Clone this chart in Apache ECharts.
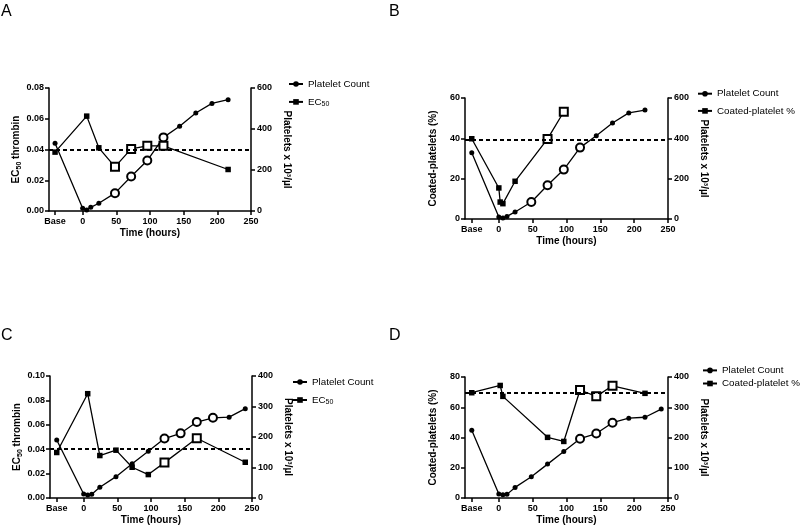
<!DOCTYPE html>
<html><head><meta charset="utf-8">
<script src="https://cdn.jsdelivr.net/npm/echarts@6/dist/echarts.min.js"></script>
<style>html,body{margin:0;padding:0;background:#fff}#c{width:800px;height:526px}</style>
</head><body><div id="c"></div>
<script>
// ---------- data ----------
const xTicks = [0, 50, 100, 150, 200, 250];
const panelLetters = ['A', 'B', 'C', 'D'];

// Panel A
const aBaseX = -41;
const aPlateletHours = ['Base', 0, 6, 12, 24, 48, 72, 96, 120, 144, 168, 192, 216];
const aPlateletCount = [331, 13, 5, 18, 38, 87, 168, 246, 359, 413, 478, 525, 543];
const aPlateletOpen = [48, 72, 96, 120];
const aEC50Hours = ['Base', 6, 24, 48, 72, 96, 120, 216];
const aEC50 = [0.0383, 0.0617, 0.0411, 0.0287, 0.0404, 0.0424, 0.0424, 0.027];
const aEC50Open = [48, 72, 96, 120];
const aEC50Ref = 0.0387;

// Panel B
const bBaseX = -40;
const bPlateletHours = ['Base', 0, 6, 12, 24, 48, 72, 96, 120, 144, 168, 192, 216];
const bPlateletCount = [329, 10, 5, 13, 35, 84, 167, 245, 354, 413, 476, 526, 540];
const bPlateletOpen = [48, 72, 96, 120];
const bCoatedHours = ['Base', 0, 2, 6, 24, 72, 96];
const bCoated = [39.8, 15.4, 8.4, 7.6, 18.7, 39.7, 53.2];
const bCoatedOpen = [72, 96];
const bCoatedRef = 39.5;

// Panel C
const cBaseX = -40;
const cPlateletHours = ['Base', 0, 6, 12, 24, 48, 72, 96, 120, 144, 168, 192, 216, 240];
const cPlateletCount = [190, 13, 10, 12, 35, 70, 112, 153, 195, 212, 249, 263, 265, 293];
const cPlateletOpen = [120, 144, 168, 192];
const cEC50Hours = ['Base', 6, 24, 48, 72, 96, 120, 168, 240];
const cEC50 = [0.0373, 0.0855, 0.0348, 0.0392, 0.0252, 0.0192, 0.029, 0.049, 0.0293];
const cEC50Open = [120, 168];
const cEC50Ref = 0.0367;

// Panel D
const dBaseX = -40;
const dPlateletHours = ['Base', 0, 6, 12, 24, 48, 72, 96, 120, 144, 168, 192, 216, 240];
const dPlateletCount = [224, 13, 11, 12, 35, 70, 112, 154, 196, 213, 249, 264, 267, 294];
const dPlateletOpen = [120, 144, 168];
const dCoatedHours = ['Base', 2, 6, 72, 96, 120, 144, 168, 216];
const dCoated = [69.6, 74.4, 67.2, 40.1, 37.4, 71.4, 67.2, 74.2, 69.2];
const dCoatedOpen = [120, 144, 168];
const dCoatedRef = 69.6;

// ---------- build ----------
const FONT = 'Liberation Sans, Arial, Helvetica, sans-serif';
const panels = [
  { grid: { left: 49, top: 88, width: 202, height: 123 }, baseX: aBaseX,
    pH: aPlateletHours, pV: aPlateletCount, pO: aPlateletOpen,
    sName: 'EC50', sH: aEC50Hours, sV: aEC50, sO: aEC50Open, ref: aEC50Ref,
    lMax: 0.08, lInt: 0.02, rMax: 600, rInt: 200, ec: true,
    legend: { left: 288, top: 79, itemGap: 7.9 } },
  { grid: { left: 465, top: 98, width: 203, height: 121 }, baseX: bBaseX,
    pH: bPlateletHours, pV: bPlateletCount, pO: bPlateletOpen,
    sName: 'Coated-platelet %', sH: bCoatedHours, sV: bCoated, sO: bCoatedOpen, ref: bCoatedRef,
    lMax: 60, lInt: 20, rMax: 600, rInt: 200, ec: false,
    legend: { left: 697, top: 88.7, itemGap: 7.2 } },
  { grid: { left: 50, top: 376, width: 202, height: 122 }, baseX: cBaseX,
    pH: cPlateletHours, pV: cPlateletCount, pO: cPlateletOpen,
    sName: 'EC50', sH: cEC50Hours, sV: cEC50, sO: cEC50Open, ref: cEC50Ref,
    lMax: 0.10, lInt: 0.02, rMax: 400, rInt: 100, ec: true,
    legend: { left: 292, top: 377, itemGap: 8 } },
  { grid: { left: 465, top: 377, width: 203, height: 121 }, baseX: dBaseX,
    pH: dPlateletHours, pV: dPlateletCount, pO: dPlateletOpen,
    sName: 'Coated-platelet %', sH: dCoatedHours, sV: dCoated, sO: dCoatedOpen, ref: dCoatedRef,
    lMax: 80, lInt: 20, rMax: 400, rInt: 100, ec: false,
    legend: { left: 702, top: 365.4, itemGap: 3.1 } }
];

const axisLine = { show: true, onZero: false, lineStyle: { color: '#000', width: 1.5 } };
const axisTick = { show: true, length: 4, lineStyle: { color: '#000', width: 1.5 } };
const tickLabel = { color: '#000', fontSize: 9, fontWeight: 'bold', fontFamily: FONT };
const nameStyle = { color: '#000', fontSize: 10, fontWeight: 'bold', fontFamily: FONT };

const option = { animation: false, backgroundColor: '#fff', grid: [], xAxis: [], yAxis: [], series: [], legend: [], graphic: [] };

function pts(hours, vals, open, baseX, openStyle) {
  return hours.map((h, i) => {
    const x = h === 'Base' ? baseX : h;
    const item = { value: [x, vals[i]] };
    if (open.indexOf(h) >= 0) {
      item.symbolSize = openStyle.size;
      item.itemStyle = { color: '#fff', borderColor: '#000', borderWidth: 2 };
    }
    return item;
  });
}

panels.forEach((p, i) => {
  option.grid.push(Object.assign({ containLabel: false }, p.grid));
  const xv = [p.baseX].concat(xTicks);
  option.xAxis.push({
    type: 'value', gridIndex: i, min: -50, max: 250,
    name: 'Time (hours)', nameLocation: 'middle', nameGap: 17, nameTextStyle: nameStyle,
    axisLine: axisLine,
    axisTick: Object.assign({ customValues: xv }, axisTick),
    axisLabel: Object.assign({ customValues: xv, margin: 6,
      formatter: v => (v === p.baseX ? 'Base' : String(v)) }, tickLabel),
    splitLine: { show: false }
  });
  const leftName = p.ec ? '{b|EC}{s|50}{b| thrombin}' : 'Coated-platelets (%)';
  option.yAxis.push({
    type: 'value', gridIndex: i, position: 'left', min: 0, max: p.lMax, interval: p.lInt,
    name: leftName, nameLocation: 'middle', nameGap: p.ec ? 26 : 27,
    nameTextStyle: Object.assign({}, nameStyle, { rich: {
      b: { fontSize: 10, fontWeight: 'bold', fontFamily: FONT, color: '#000' },
      s: { fontSize: 7, fontWeight: 'bold', fontFamily: FONT, color: '#000', padding: [5, 0, 0, 0] }
    } }),
    axisLine: axisLine, axisTick: axisTick,
    axisLabel: Object.assign({ margin: 5, formatter: v => (p.ec ? v.toFixed(2) : String(v)) }, tickLabel),
    splitLine: { show: false }
  });
  option.yAxis.push({
    type: 'value', gridIndex: i, position: 'right', min: 0, max: p.rMax, interval: p.rInt,
    name: 'Platelets x 10³/µl', nameLocation: 'middle', nameRotate: -90, nameGap: 31,
    nameTextStyle: nameStyle,
    axisLine: axisLine, axisTick: axisTick,
    axisLabel: Object.assign({ margin: 6 }, tickLabel),
    splitLine: { show: false }
  });
  option.series.push({
    name: 'Platelet Count', type: 'line', xAxisIndex: i, yAxisIndex: 2 * i + 1,
    symbol: 'circle', symbolSize: 5, z: 3,
    itemStyle: { color: '#000' }, lineStyle: { color: '#000', width: 1.3 },
    data: pts(p.pH, p.pV, p.pO, p.baseX, { size: 8 })
  });
  option.series.push({
    name: p.sName, type: 'line', xAxisIndex: i, yAxisIndex: 2 * i,
    symbol: 'rect', symbolSize: 5.5, z: 4,
    itemStyle: { color: '#000' }, lineStyle: { color: '#000', width: 1.3 },
    data: pts(p.sH, p.sV, p.sO, p.baseX, { size: 8 }),
    markLine: { silent: true, symbol: ['none', 'none'], label: { show: false },
      lineStyle: { color: '#000', width: 2, type: [4, 3] }, data: [{ yAxis: p.ref }] }
  });
  option.legend.push({
    orient: 'vertical', left: p.legend.left, top: p.legend.top, itemGap: p.legend.itemGap,
    padding: 0, itemWidth: 14, itemHeight: 7,
    data: ['Platelet Count', p.sName],
    selectedMode: false,
    formatter: n => (n === 'EC50' ? '{a|EC}{s|50}' : '{a|' + n + '}'),
    textStyle: { color: '#000', fontSize: 10, fontFamily: FONT, rich: {
      a: { fontSize: 9.8, fontFamily: FONT, color: '#000' },
      s: { fontSize: 7, fontFamily: FONT, color: '#000', padding: [5, 0, 0, 0] }
    } }
  });
});

const letterPos = [[1, 4], [389, 4], [1, 328], [389, 328]];
panelLetters.forEach((t, i) => {
  option.graphic.push({ type: 'text', left: letterPos[i][0], top: letterPos[i][1],
    style: { text: t, fontSize: 16, fontFamily: FONT, fill: '#000' } });
});

const chart = echarts.init(document.getElementById('c'), null, { renderer: 'canvas' });
chart.setOption(option);
</script>
</body></html>
